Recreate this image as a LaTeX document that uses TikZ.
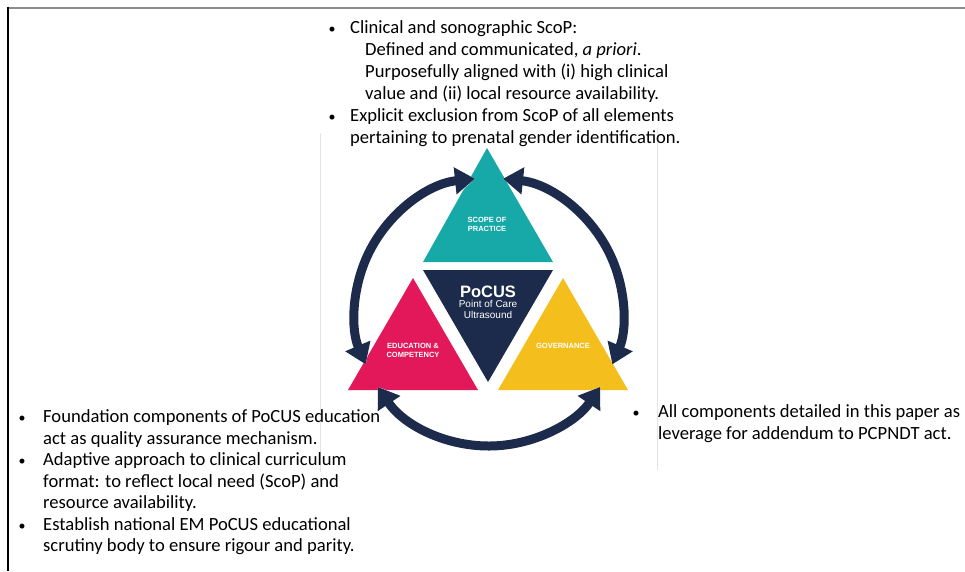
\documentclass[tikz,border=0pt]{standalone}
\usepackage{fontspec}
\setmainfont{Carlito}
\newfontfamily\labelfont{Liberation Sans}
\usetikzlibrary{arrows.meta,positioning}

\definecolor{scopeTeal}{HTML}{17A9A8}
\definecolor{pocusNavy}{HTML}{1C2B4B}
\definecolor{eduPink}{HTML}{E2185B}
\definecolor{govYellow}{HTML}{F4BE1C}
\definecolor{frameGray}{HTML}{8C8C8C}
\definecolor{imgEdge}{HTML}{E4E4E4}

\tikzset{
  bodyline/.style={anchor=base west, inner sep=0pt, font=\fontsize{18.6}{22}\selectfont},
  bulletdot/.style={anchor=base, inner sep=0pt, font=\fontsize{14}{16}\selectfont},
  triLabel/.style={text=white, align=center, inner sep=0pt, font=\labelfont\bfseries\fontsize{7.5}{9}\selectfont},
  ringArrow/.style={draw=pocusNavy, line width=9pt,
    {Triangle[length=20pt,width=26pt]}-{Triangle[length=20pt,width=26pt]},
    preaction={draw=white, line width=15pt,
      {Triangle[length=24pt,width=34pt]}-{Triangle[length=24pt,width=34pt]}}}
}

\begin{document}
\begin{tikzpicture}[x=1pt, y=-1pt]
    \useasboundingbox (0,0) rectangle (965,571);

    % Page frame
    \draw[frameGray, line width=2pt] (8,8) -- (965,8);
    \draw[black, line width=1.5pt] (8,7) -- (8,571);

    % Edges of the pasted figure
    \draw[imgEdge, line width=1pt] (320,133) -- (320,472);
    \draw[imgEdge, line width=1pt] (657,128) -- (657,470);

    % Define the corners of the triangles
    \coordinate (scopeTop) at (487,148);
    \coordinate (scopeL) at (423,262);
    \coordinate (scopeR) at (553,262);
    \coordinate (pocusL) at (423,270);
    \coordinate (pocusR) at (553,270);
    \coordinate (pocusBot) at (488,382);
    \coordinate (eduTop) at (413,278);
    \coordinate (eduL) at (348,390);
    \coordinate (eduR) at (478,390);
    \coordinate (govTop) at (563,278);
    \coordinate (govL) at (498,390);
    \coordinate (govR) at (628,390);
    \coordinate (ringC) at (489,312);

    % Draw the triangles
    \fill[scopeTeal] (scopeTop) -- (scopeL) -- (scopeR) -- cycle;
    \fill[pocusNavy] (pocusL) -- (pocusR) -- (pocusBot) -- cycle;
    \fill[eduPink] (eduTop) -- (eduL) -- (eduR) -- cycle;
    \fill[govYellow] (govTop) -- (govL) -- (govR) -- cycle;

    % Draw the ring of arrows
    \draw[ringArrow] (ringC) ++(-96:134) arc[start angle=-96, end angle=-203, radius=134];
    \draw[ringArrow] (ringC) ++(-84:134) arc[start angle=-84, end angle=23, radius=134];
    \draw[ringArrow] (ringC) ++(-214:134) arc[start angle=-214, end angle=-326, radius=134];

    % Labels inside the triangles
    \node[triLabel] (scopeLabel) at (487,224) {SCOPE OF\\PRACTICE};
    \node[triLabel] (eduLabel) at (413,350) {EDUCATION \&\\COMPETENCY};
    \node[triLabel] (govLabel) at (563,346) {GOVERNANCE};
    \node[text=white, inner sep=0pt, font=\labelfont\bfseries\fontsize{16.5}{18}\selectfont] (pocusLabel) at (488,292) {PoCUS};
    \node[text=white, align=center, inner sep=0pt, font=\labelfont\fontsize{10}{11.5}\selectfont, below=2pt of pocusLabel] (pocusSub) {Point of Care\\Ultrasound};

    % Scope of practice notes
    \node[bulletdot] (scopeDot1) at (332,33) {\textbullet};
    \node[bodyline] (scopeNote1) at (350,33) {Clinical and sonographic ScoP:};
    \foreach \y/\txt [count=\i] in {55/{Defined and communicated, \textit{a priori}.},
                                    77/{Purposefully aligned with (i) high clinical},
                                    99/{value and (ii) local resource availability.}}
        \node[bodyline] (scopeSub\i) at (365,\y) {\txt};
    \node[bulletdot] (scopeDot2) at (332,121) {\textbullet};
    \node[bodyline] (scopeNote2) at (350,121) {Explicit exclusion from ScoP of all elements};
    \node[bodyline] (scopeNote3) at (350,143) {pertaining to prenatal gender identification.};

    % Education notes
    \foreach \y in {422,465,530}
        \node[bulletdot] at (22,\y) {\textbullet};
    \foreach \y/\txt [count=\i] in {422/{Foundation components of PoCUS education},
                                    444/{act as quality assurance mechanism.},
                                    465/{Adaptive approach to clinical curriculum},
                                    487/{format: to reflect local need (ScoP) and},
                                    508/{resource availability.},
                                    530/{Establish national EM PoCUS educational},
                                    551/{scrutiny body to ensure rigour and parity.}}
        \node[bodyline] (eduNote\i) at (43,\y) {\txt};

    % Governance notes
    \node[bulletdot] (govDot) at (636,417) {\textbullet};
    \node[bodyline] (govNote1) at (658,417) {All components detailed in this paper as};
    \node[bodyline] (govNote2) at (658,439) {leverage for addendum to PCPNDT act.};
\end{tikzpicture}
\end{document}
